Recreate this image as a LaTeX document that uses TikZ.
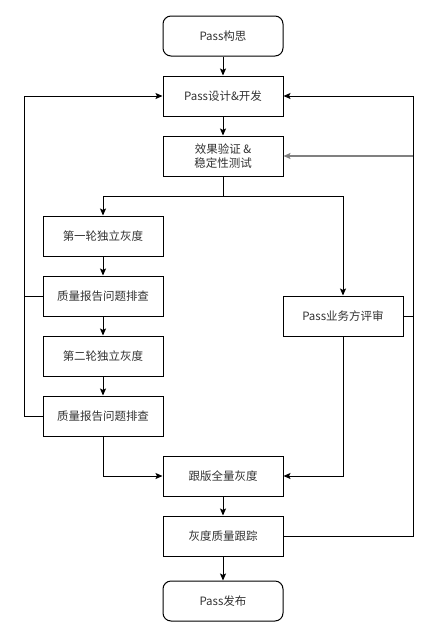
\documentclass[tikz,border=0pt]{standalone}
\usepackage{fontspec}
\setmainfont{Noto Sans CJK SC}
\usetikzlibrary{arrows.meta}
\begin{document}
\begin{tikzpicture}[x=1pt,y=-1pt,
  box/.style={draw=black,line width=1pt,minimum width=120pt,minimum height=40pt,inner sep=0pt,align=center,font=\fontsize{11.5}{14}\selectfont,text=black!80},
  rbox/.style={box,rounded corners=8pt},
  conn/.style={line width=1pt,-{Stealth[length=7pt,width=6pt,inset=1.5pt]}},
  plain/.style={line width=1pt}]
\useasboundingbox (0,0) rectangle (438,638);
\fill[white] (0,0) rectangle (438,638);
\node[rbox] (idea) at (223,36) {Pass构思};
\node[box] (dev) at (223,96) {Pass设计\&开发};
\node[box] (test) at (223,156) {效果验证 \&\\稳定性测试};
\node[box] (g1) at (103,236) {第一轮独立灰度};
\node[box] (q1) at (103,296) {质量报告问题排查};
\node[box] (g2) at (103,356) {第二轮独立灰度};
\node[box] (q2) at (103,416) {质量报告问题排查};
\node[box] (rev) at (343,316) {Pass业务方评审};
\node[box] (full) at (223,476) {跟版全量灰度};
\node[box] (track) at (223,536) {灰度质量跟踪};
\node[rbox] (rel) at (223,601) {Pass发布};
\coordinate (split) at (223,196);
\coordinate (rx) at (413,96);
\coordinate (lx) at (24,96);
\draw[conn] (idea) -- (dev);
\draw[conn] (dev) -- (test);
\draw[plain] (test) -- (split);
\draw[conn] (split) -| (g1);
\draw[conn] (split) -| (rev);
\draw[conn] (g1) -- (q1);
\draw[conn] (q1) -- (g2);
\draw[conn] (g2) -- (q2);
\draw[conn] (q2.south) |- (full.west);
\draw[conn] (rev.south) |- (full.east);
\draw[conn] (full) -- (track);
\draw[conn] (track) -- (rel);
\draw[conn] (q1.west) -| (lx) -- (dev.west);
\draw[plain] (q2.west) -| (lx);
\draw[conn] (track.east) -| (rx) -- (dev.east);
\draw[plain] (rev.east) -| (rx);
\draw[line width=1.5pt,draw=black!50,-{Stealth[length=7pt,width=6pt,inset=1.5pt]}] (413,156) -- (test.east);
\end{tikzpicture}
\end{document}
